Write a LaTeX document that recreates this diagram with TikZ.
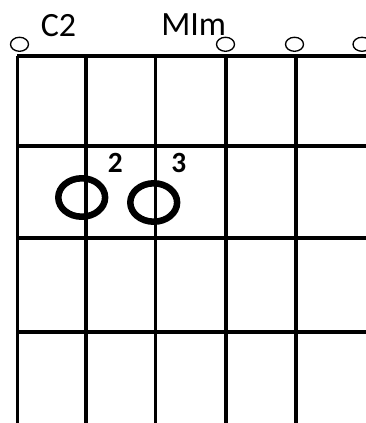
\documentclass[tikz,border=0pt]{standalone}
\usepackage{fontspec}
\newfontfamily\chordfont{Carlito}
\usetikzlibrary{calc}

\tikzset{
  gridline/.style={line width=2.5pt},
  openstring/.style={line width=1pt},
  finger/.style={line width=4.9pt},
  chordname/.style={anchor=base west, inner sep=0pt, font=\chordfont\fontsize{25.5}{28}\selectfont},
  fingernum/.style={anchor=base west, inner sep=0pt, font=\chordfont\bfseries\fontsize{22}{24}\selectfont}
}

\begin{document}
\begin{tikzpicture}[x=0.75pt, y=-0.75pt]
    % 画布大小
    \useasboundingbox (0,0) rectangle (365,423);

    % 和弦名称
    \node[chordname] (name1) at (40.5,36.5) {C2};
    \node[chordname] (name2) at (161,36) {MIm};

    % 品格横线
    \foreach \y in {56,146,238,332}
        \draw[gridline] (17.3,\y) -- (370,\y);

    % 琴弦竖线
    \foreach \x in {17.3,86,155.7,226,296}
        \draw[gridline] (\x,56) -- (\x,430);

    % 空弦圆圈
    \foreach \x in {19.5,225.5,294.5,362}
        \draw[openstring] (\x,44.3) ellipse (9 and 7);

    % 按弦位置
    \draw[finger] (81.7,197.5) ellipse (23.4 and 19.2);
    \draw[finger] (153.7,202.5) ellipse (23.4 and 19.2);

    % 手指编号
    \node[fingernum] (f2) at (107.5,172.7) {2};
    \node[fingernum] (f3) at (171,172.7) {3};
\end{tikzpicture}
\end{document}
